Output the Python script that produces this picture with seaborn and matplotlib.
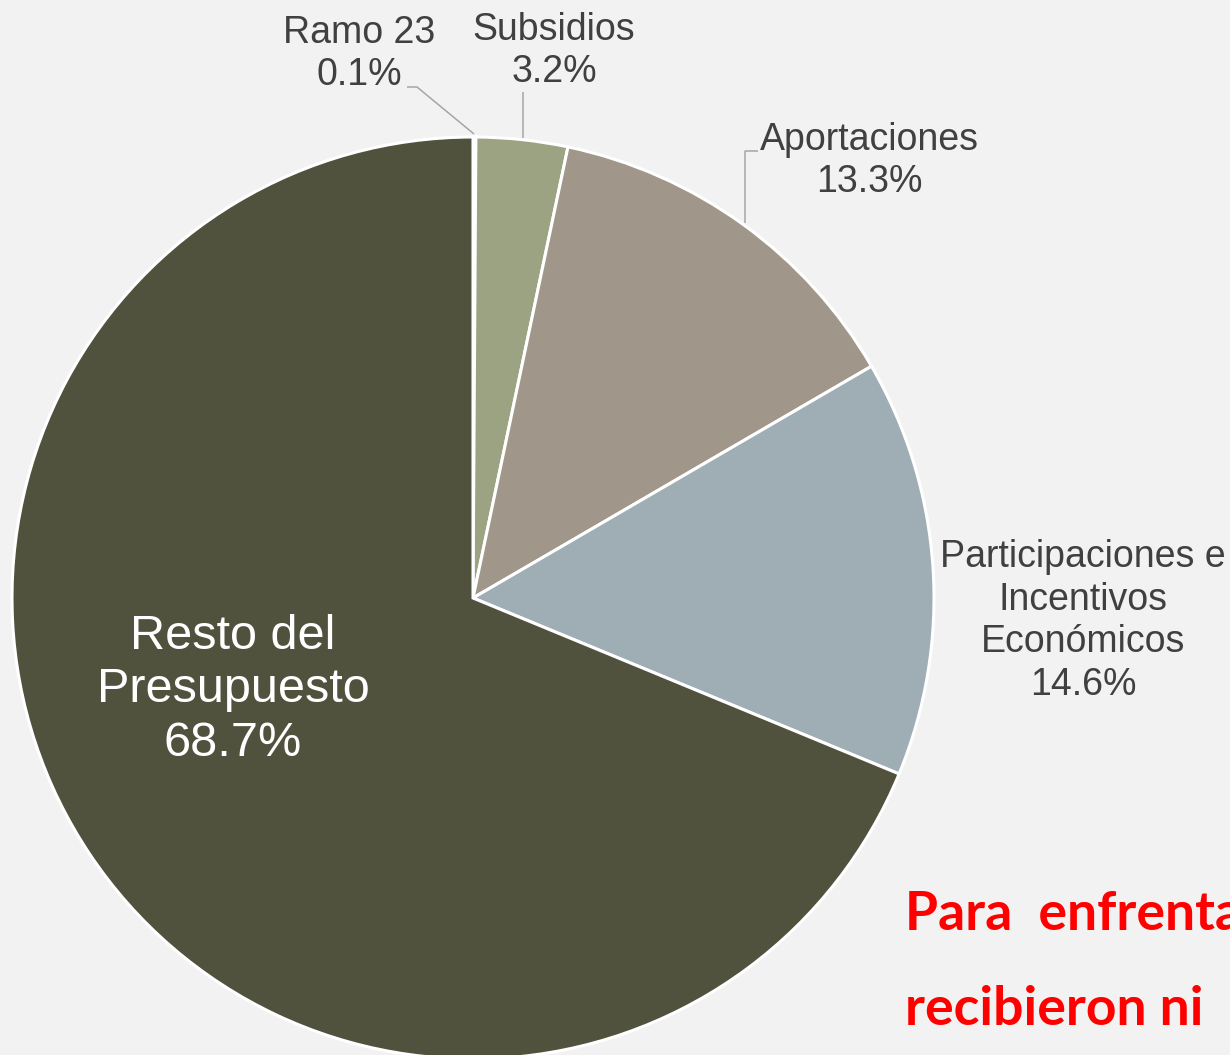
import matplotlib
matplotlib.use("Agg")
import matplotlib.pyplot as plt
import seaborn as sns

# data (clockwise from 12 o'clock)
labels = ["Ramo 23", "Subsidios", "Aportaciones",
          "Participaciones e\nIncentivos\nEconómicos", "Resto del\nPresupuesto"]
shares = [0.1, 3.2, 13.3, 14.6, 68.7]
colors = ["#3e4030", "#9ca382", "#a0978a", "#9eaeb4", "#50523d"]

BG = "#f2f2f2"
W, H = 1230, 1055

sns.set_theme(style="white", rc={"figure.facecolor": BG, "axes.facecolor": BG})
plt.rcParams["font.family"] = ["Liberation Sans", "DejaVu Sans"]


def px(x, y):
    # pixel position (from top-left) -> data coords
    return x, H - y


fig = plt.figure(figsize=(W / 100, H / 100), dpi=100)
ax = fig.add_axes([0, 0, 1, 1])

ax.pie(shares, colors=colors, startangle=90, counterclock=False,
       center=px(473, 598), radius=461,
       wedgeprops=dict(edgecolor="white", linewidth=2.2))
ax.set_xlim(0, W)
ax.set_ylim(0, H)
ax.set_aspect("equal")
ax.axis("off")

txt = "#404040"
fs = 27
ls = 1.23
pct = [f"{v:.1f}%" for v in shares]

# outside labels
ax.text(*px(359, 54), f"{labels[0]}\n{pct[0]}", ha="center", va="center",
        fontsize=fs, color=txt, linespacing=ls)
ax.text(*px(554, 51), f"{labels[1]}\n{pct[1]}", ha="center", va="center",
        fontsize=fs, color=txt, linespacing=ls)
ax.text(*px(869, 161), f"{labels[2]}\n{pct[2]}", ha="center", va="center",
        fontsize=fs, color=txt, linespacing=ls)
ax.text(*px(1083, 621), f"{labels[3]}\n{pct[3]}", ha="center", va="center",
        fontsize=fs, color=txt, linespacing=ls)
ax.text(*px(233, 690), f"{labels[4]}\n{pct[4]}", ha="center", va="center",
        fontsize=35, color="white", linespacing=ls)

# leader lines
lc = "#a6a6a6"
for pts in ([(407, 87), (417, 87), (474, 134)],
            [(523, 92), (523, 138)],
            [(758, 151), (745, 151), (745, 223)]):
    xs, ys = zip(*[px(*p) for p in pts])
    ax.plot(xs, ys, color=lc, lw=1.1, solid_capstyle="butt")

# red note, cut off at the right edge as in the source slide
red = dict(ha="left", va="baseline", fontsize=38.5, color="#ff0000",
           fontweight="bold", family=["Lato", "DejaVu Sans"])
ax.text(*px(905, 930), "Para  enfrenta", **red)
ax.text(*px(905, 1025), "recibieron ni", **red)

fig.savefig("out.png", dpi=100, facecolor=BG)
